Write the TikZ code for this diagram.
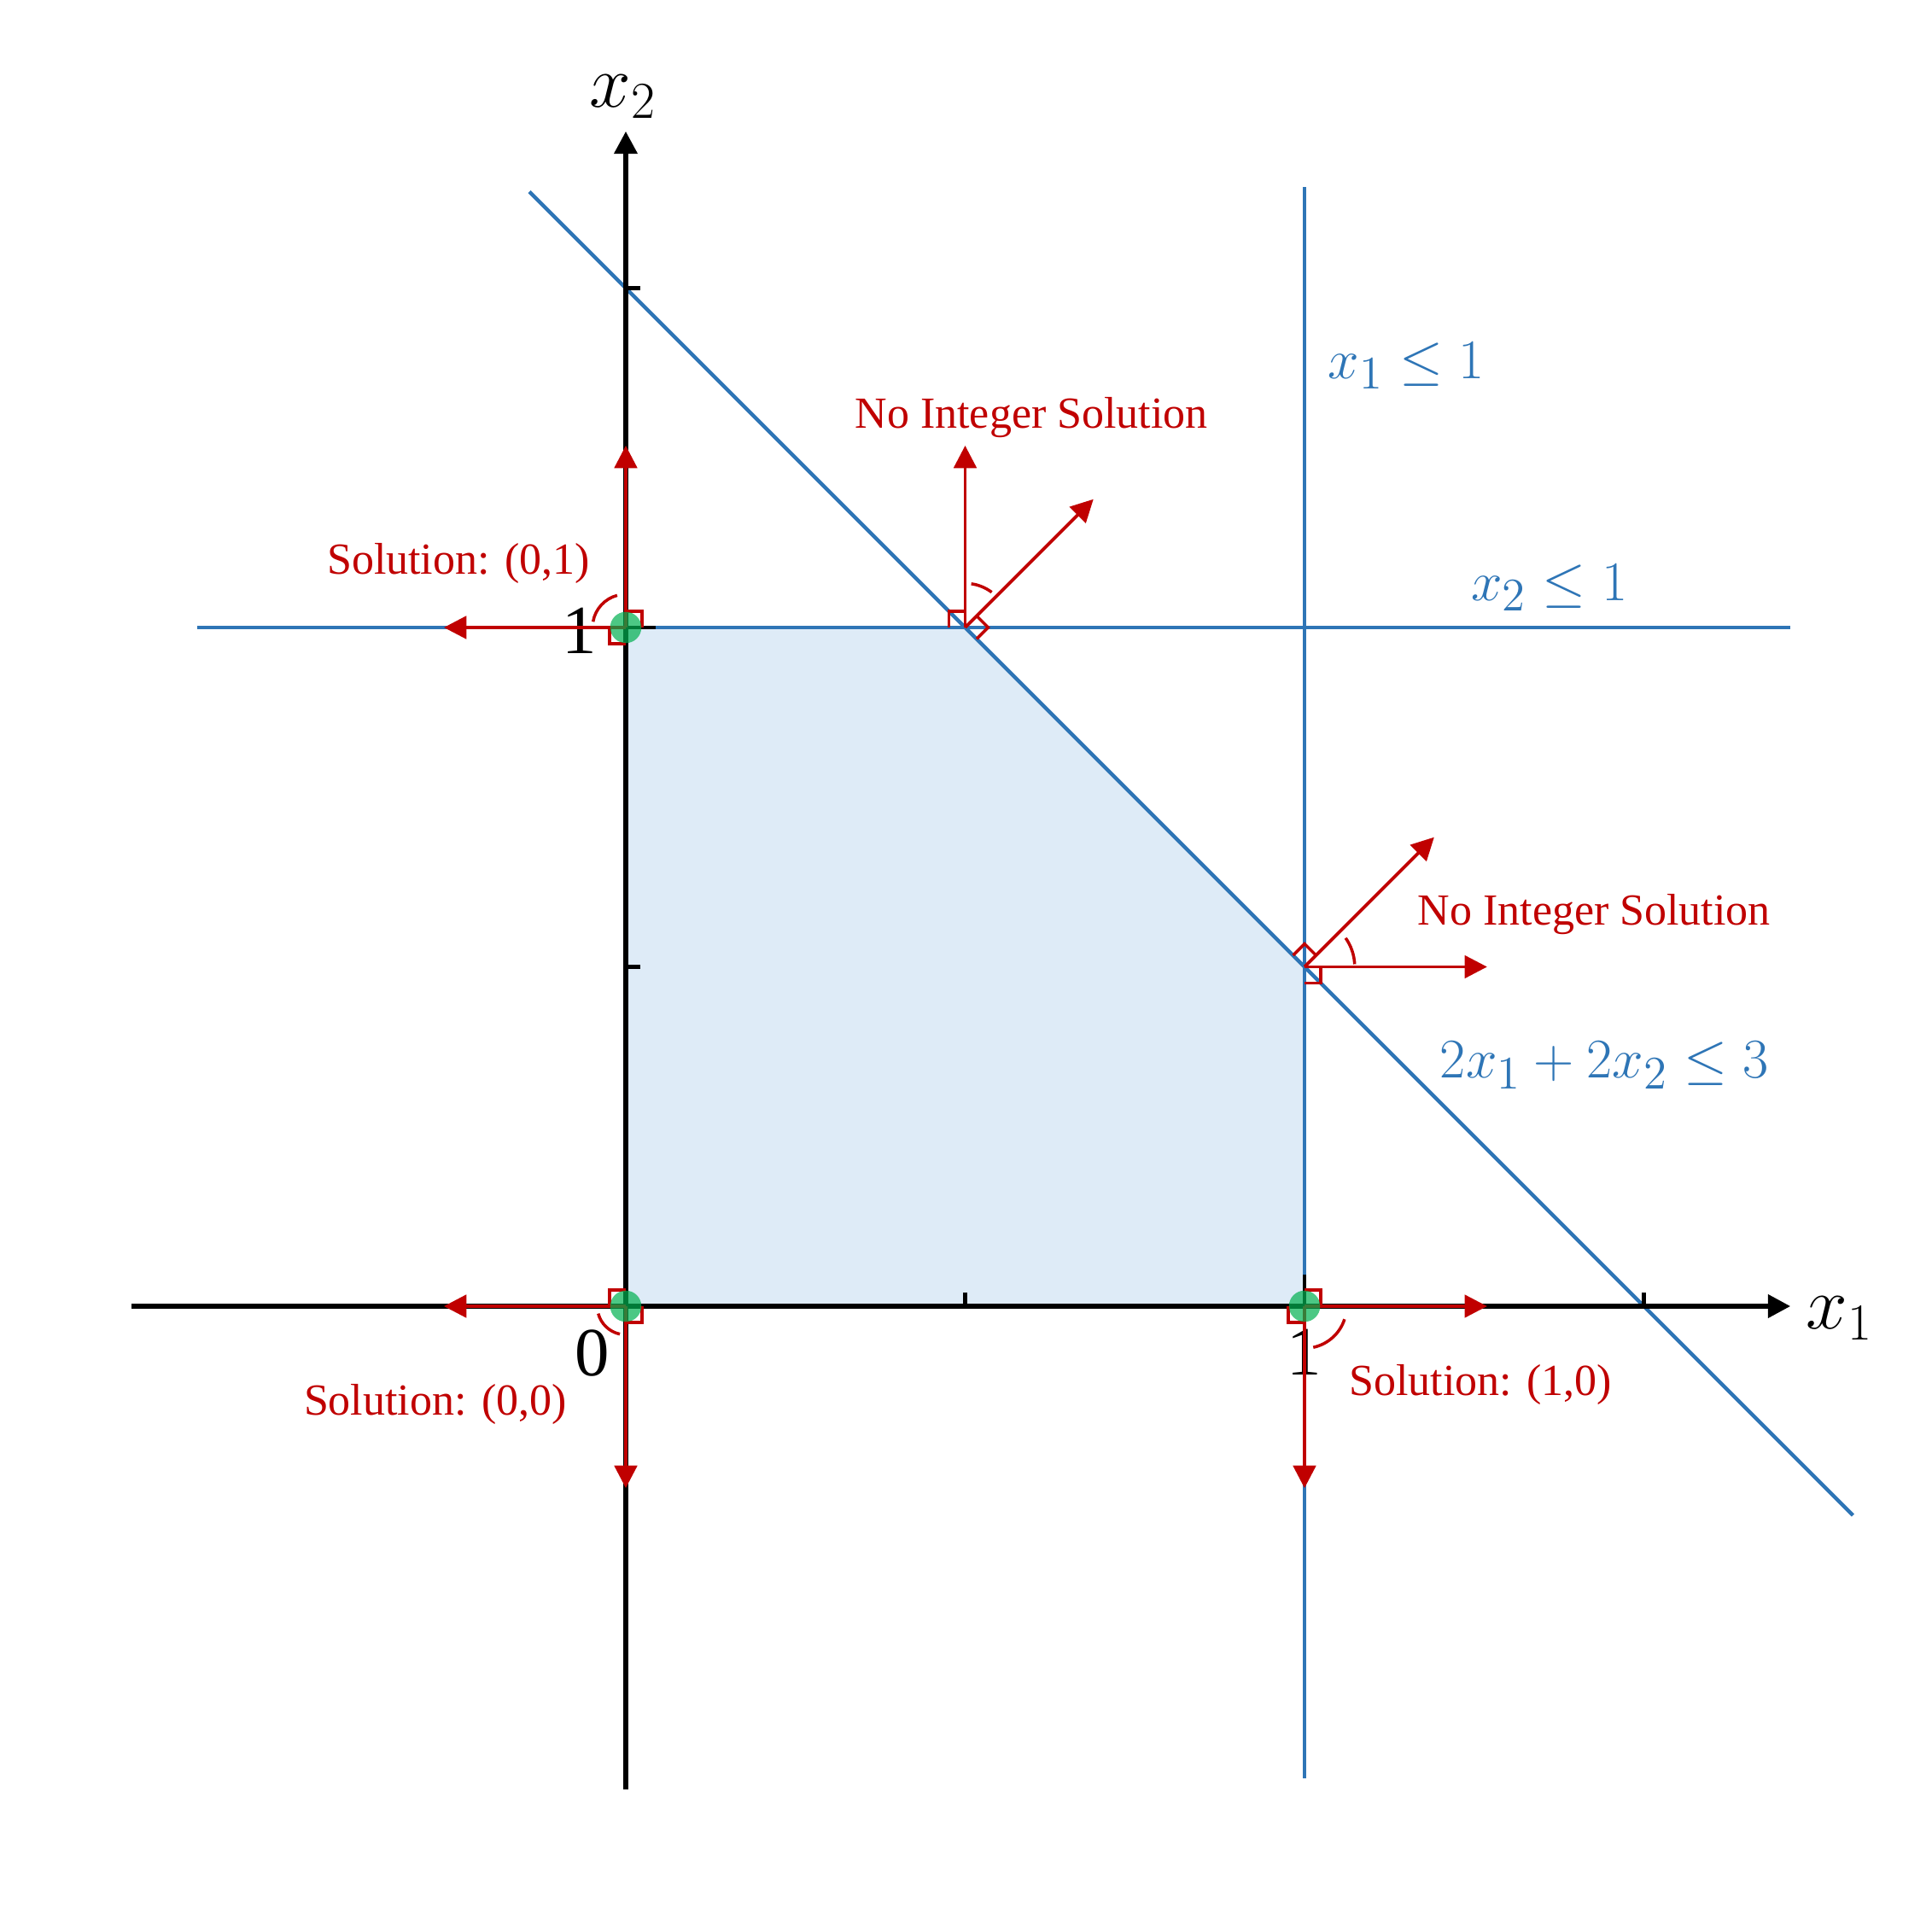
\documentclass[tikz,border=0pt]{standalone}
\usepackage{fontspec}
\usepackage{graphicx}
\setmainfont{Liberation Serif}
\usetikzlibrary{arrows.meta}
\definecolor{cblue}{HTML}{2E75B6}
\definecolor{cred}{HTML}{C00000}
\definecolor{cfill}{HTML}{DEEBF7}
\definecolor{cgreen}{HTML}{00B050}
\newcommand{\bigmath}[1]{\scalebox{1.08}{$#1$}}
\tikzset{
  axisline/.style={line width=1.7pt,-{Triangle[length=7.5pt,width=7.5pt]}},
  tickline/.style={line width=1.4pt},
  cline/.style={cblue,line width=1.25pt},
  redarrow/.style={cred,line width=1.1pt,-{Triangle[length=7.5pt,width=7.5pt]}},
  redmark/.style={cred,line width=1pt},
  soldot/.style={circle,fill=cgreen,fill opacity=0.7,minimum size=10.4pt,inner sep=0pt},
  bluelab/.style={cblue,font=\fontsize{19}{23}\selectfont,inner sep=0pt,anchor=base west},
  redlab/.style={cred,font=\fontsize{14.8}{18}\selectfont,inner sep=0pt,anchor=base west},
  axlab/.style={font=\fontsize{24}{28}\selectfont,inner sep=0pt,anchor=base west},
  ticklab/.style={font=\fontsize{23}{26}\selectfont,inner sep=0pt,anchor=base},
}
\begin{document}
\begin{tikzpicture}[x=7.95cm,y=7.95cm]
\useasboundingbox (-0.922,-0.922) rectangle (1.9245,1.9245);
% key points
\coordinate (O) at (0,0);
\coordinate (A) at (0,1);
\coordinate (B) at (1,0);
\coordinate (P) at (0.5,1);
\coordinate (Q) at (1,0.5);
% feasible region
\fill[cfill] (O) -- (B) -- (Q) -- (P) -- (A) -- cycle;
% constraint lines
\coordinate (h1) at (-0.631,1);
\coordinate (h2) at (1.716,1);
\coordinate (v1) at (1,1.649);
\coordinate (v2) at (1,-0.696);
\coordinate (d1) at (-0.142,1.642);
\coordinate (d2) at (1.808,-0.308);
\draw[cline] (h1) -- (h2);
\draw[cline] (v1) -- (v2);
\draw[cline] (d1) -- (d2);
% axes
\coordinate (xa) at (-0.728,0);
\coordinate (xb) at (1.716,0);
\coordinate (ya) at (0,-0.712);
\coordinate (yb) at (0,1.731);
\draw[axisline] (xa) -- (xb);
\draw[axisline] (ya) -- (yb);
% ticks
\foreach \t in {0.5,1.5}{
  \draw[tickline] (\t,0) -- (\t,0.02);
  \draw[tickline] (0,\t) -- (0.021,\t);
}
\draw[tickline] (B) -- ++(0,0.046);
\draw[tickline] (A) -- ++(0.044,0);
% axis labels
\node[axlab] (lx1) at (1.738,-0.033) {$x_1$};
\node[axlab] (lx2) at (-0.054,1.767) {$x_2$};
\node[ticklab] (t0) at (-0.049,-0.103) {0};
\node[ticklab] (t1x) at (1.0,-0.101) {1};
\node[ticklab] (t1y) at (-0.068,0.962) {1};
% constraint labels
\node[bluelab] (c1) at (1.034,1.367) {\bigmath{x_1 \le 1}};
\node[bluelab] (c2) at (1.245,1.040) {\bigmath{x_2 \le 1}};
\node[bluelab] (c3) at (1.199,0.336) {\bigmath{2x_1 + 2x_2 \le 3}};
% red arrow tips
\coordinate (Pu) at (0.5,1.268);
\coordinate (Pd) at (0.689,1.189);
\coordinate (Qr) at (1.269,0.5);
\coordinate (Qd) at (1.191,0.691);
\coordinate (Al) at (-0.268,1);
\coordinate (Au) at (0,1.268);
\coordinate (Ol) at (-0.268,0);
\coordinate (Od) at (0,-0.268);
\coordinate (Br) at (1.269,0);
\coordinate (Bd) at (1,-0.268);
\draw[redarrow] (P) -- (Pu);
\draw[redarrow] (P) -- (Pd);
\draw[redarrow] (Q) -- (Qr);
\draw[redarrow] (Q) -- (Qd);
\draw[redarrow] (A) -- (Al);
\draw[redarrow] (A) -- (Au);
\draw[redarrow] (O) -- (Ol);
\draw[redarrow] (O) -- (Od);
\draw[redarrow] (B) -- (Br);
\draw[redarrow] (B) -- (Bd);
% right-angle marks
\def\s{0.024}
\draw[redmark] (P) ++(0,\s) -- ++(-\s,0) -- ++(0,-\s);
\draw[redmark] (P) ++(45:\s) -- ++(-45:\s) -- ++(-135:\s);
\draw[redmark] (Q) ++(45:\s) -- ++(135:\s) -- ++(-135:\s);
\draw[redmark] (Q) ++(\s,0) -- ++(0,-\s) -- ++(-\s,0);
\draw[redmark] (A) ++(\s,0) -- ++(0,\s) -- ++(-\s,0);
\draw[redmark] (A) ++(-\s,0) -- ++(0,-\s) -- ++(\s,0);
\draw[redmark] (O) ++(-\s,0) -- ++(0,\s) -- ++(\s,0);
\draw[redmark] (O) ++(\s,0) -- ++(0,-\s) -- ++(-\s,0);
\draw[redmark] (B) ++(\s,0) -- ++(0,\s) -- ++(-\s,0);
\draw[redmark] (B) ++(-\s,0) -- ++(0,-\s) -- ++(\s,0);
% angle arcs
\draw[redmark] (P) ++(82:0.065) arc[start angle=82,end angle=53,radius=0.065];
\draw[redmark] (Q) ++(35:0.074) arc[start angle=35,end angle=3,radius=0.074];
\draw[redmark] (A) ++(105:0.049) arc[start angle=105,end angle=170,radius=0.049];
\draw[redmark] (O) ++(195:0.042) arc[start angle=195,end angle=258,radius=0.042];
\draw[redmark] (B) ++(-18:0.062) arc[start angle=-18,end angle=-78,radius=0.062];
% red labels
\node[redlab] (n1) at (0.337,1.294) {No Integer Solution};
\node[redlab] (n2) at (1.166,0.562) {No Integer Solution};
\node[redlab] (s1) at (-0.441,1.079) {Solution: (0,1)};
\node[redlab] (s0) at (-0.475,-0.160) {Solution: (0,0)};
\node[redlab] (s2) at (1.065,-0.132) {Solution: (1,0)};
% solution dots
\node[soldot] (gA) at (A) {};
\node[soldot] (gO) at (O) {};
\node[soldot] (gB) at (B) {};
\end{tikzpicture}
\end{document}
